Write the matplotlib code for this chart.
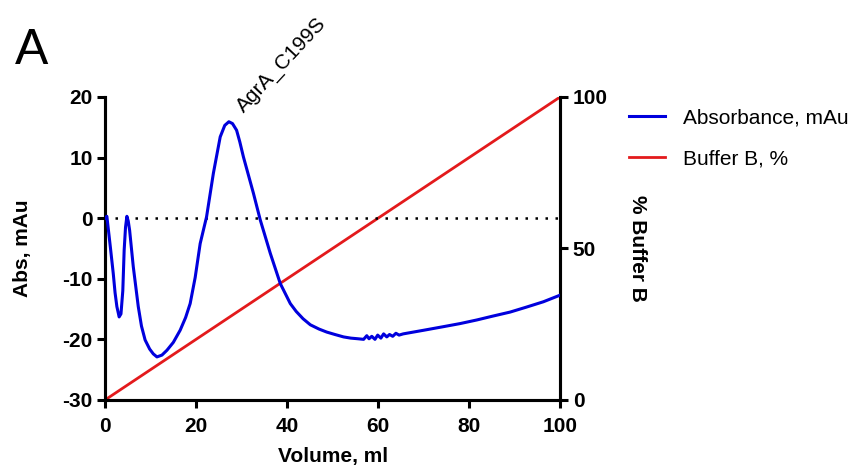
import numpy as np
from matplotlib import pyplot as plt

plt.rcParams['font.family'] = ['Liberation Sans', 'DejaVu Sans']
plt.rcParams['axes.unicode_minus'] = False

# absorbance trace
volume = [0.0, 0.4, 1.2, 1.8, 2.2, 2.6, 3.1, 3.5, 3.9, 4.2, 4.5, 4.8, 5.1,
          5.4, 6.2, 7.3, 8.0, 8.8, 9.8, 10.6, 11.4, 12.5, 13.6, 15.0, 16.5,
          17.7, 18.7, 19.8, 20.9, 22.3, 23.8, 25.3, 26.3, 27.2, 28.0, 28.9,
          29.6, 30.4, 31.5, 32.6, 34.1, 36.3, 38.5, 40.7, 42.0, 43.5, 45.1,
          47.0, 48.7, 50.5, 52.4, 54.0, 55.5, 56.8, 57.5, 58.0, 58.6, 59.3,
          59.9, 60.6, 61.2, 61.9, 62.5, 63.2, 63.9, 64.6, 65.5, 67.0, 70.0,
          74.4, 78.0, 81.7, 85.0, 89.0, 92.5, 96.3, 100.0]
absorb = [0.0, 0.3, -5.0, -9.1, -12.3, -14.6, -16.3, -15.8, -12.0, -5.3,
          -1.5, 0.3, -0.5, -2.0, -8.0, -14.6, -17.8, -20.1, -21.6, -22.4,
          -22.9, -22.6, -21.8, -20.5, -18.5, -16.4, -14.1, -9.8, -4.2, 0.2,
          7.4, 13.4, 15.3, 15.9, 15.6, 14.5, 12.6, 10.1, 7.1, 4.1, -0.3,
          -5.8, -10.8, -14.1, -15.4, -16.6, -17.6, -18.3, -18.8, -19.2,
          -19.6, -19.8, -19.9, -20.0, -19.4, -19.9, -19.5, -20.0, -19.3,
          -19.8, -19.1, -19.6, -19.2, -19.5, -19.0, -19.3, -19.1, -18.9,
          -18.5, -17.9, -17.4, -16.8, -16.2, -15.5, -14.7, -13.8, -12.7]

# linear gradient of buffer B
grad_volume = [0, 100]
buffer_b = [0, 100]

fig = plt.figure(figsize=(8.54, 4.75), dpi=100)
ax = fig.add_axes([0.123, 0.158, 0.533, 0.638])
ax2 = ax.twinx()

ax.axhline(0, color='black', linestyle=(0, (1, 3)), linewidth=1.8, zorder=1)
l1, = ax.plot(volume, absorb, color='#0000dd', linewidth=2.2, zorder=3,
              label='Absorbance, mAu')
l2, = ax2.plot(grad_volume, buffer_b, color='#e31a1c', linewidth=2.0,
               label='Buffer B, %')
ax.set_zorder(ax2.get_zorder() + 1)
ax.patch.set_visible(False)

ax.set_xlim(0, 100)
ax.set_ylim(-30, 20)
ax2.set_ylim(0, 100)
ax.set_xticks([0, 20, 40, 60, 80, 100])
ax.set_yticks([-30, -20, -10, 0, 10, 20])
ax2.set_yticks([0, 50, 100])

for a in (ax, ax2):
    for s in a.spines.values():
        s.set_linewidth(2.2)
    a.spines['top'].set_visible(False)
    a.tick_params(width=2.2, length=6, labelsize=15, direction='out', pad=3)
    for lab in a.get_xticklabels() + a.get_yticklabels():
        lab.set_fontweight('bold')
ax.tick_params(axis='x', pad=6)

ax.set_xlabel('Volume, ml', fontsize=15, fontweight='bold', labelpad=8)
ax.set_ylabel('Abs, mAu', fontsize=15, fontweight='bold', labelpad=22)
ax2.set_ylabel('% Buffer B', fontsize=15, fontweight='bold', rotation=270,
               labelpad=28)

ax.text(30.5, 17.3, 'AgrA_C199S', rotation=47, rotation_mode='anchor',
        ha='left', va='baseline', fontsize=15)

fig.text(0.017, 0.865, 'A', fontsize=36)

fig.legend(handles=[l1, l2], loc='upper left', bbox_to_anchor=(0.736, 0.771),
           frameon=False, fontsize=15, handlelength=1.75, labelspacing=1.05,
           handletextpad=0.85, borderpad=0, borderaxespad=0)

fig.savefig('out.png', dpi=100)
